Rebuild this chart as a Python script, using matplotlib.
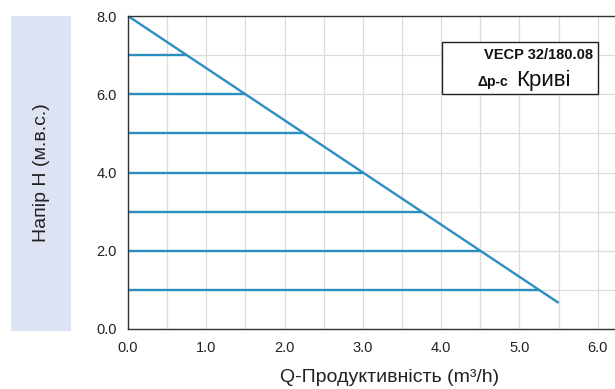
import matplotlib
matplotlib.use("Agg")
import matplotlib.pyplot as plt
from matplotlib.patches import Rectangle
import numpy as np

# Data
curve_q = [0.0, 5.5]
curve_h = [8.0, 0.667]
levels_h = [7, 6, 5, 4, 3, 2, 1]
levels_qend = [0.75, 1.5, 2.25, 3.0, 3.75, 4.5, 5.25]
xticks = [0, 1, 2, 3, 4, 5, 6]
yticks = [0, 2, 4, 6, 8]

plt.rcParams['font.family'] = ['Liberation Sans', 'DejaVu Sans']

fig = plt.figure(figsize=(6.15, 3.89), dpi=100)
ax = fig.add_axes([128/615, 1-329/389, 1-128/615, (329-16)/389])

blue = '#2a8fc0'
ax.plot(curve_q, curve_h, color=blue, lw=1.7, solid_capstyle='butt')
for h, q in zip(levels_h, levels_qend):
    ax.plot([0, q], [h, h], color=blue, lw=1.7, solid_capstyle='butt')

ax.set_xlim(0, 487/78.3)
ax.set_ylim(0, 8)
ax.set_xticks(np.arange(0, 6.5, 0.5), minor=False)
ax.set_xticklabels([f"{v:.1f}" if v in xticks else "" for v in np.arange(0, 6.5, 0.5)])
ax.set_yticks(np.arange(0, 9, 1))
ax.set_yticklabels([f"{v:.1f}" if v in yticks else "" for v in range(9)])
ax.grid(True, color='#dcdcdc', lw=0.9)
ax.set_axisbelow(True)
ax.tick_params(length=0, labelsize=10.5, colors='#222222')
ax.tick_params(axis='x', pad=9)
ax.tick_params(axis='y', pad=8)
for s in ['left', 'bottom', 'top']:
    ax.spines[s].set_color('#333333')
    ax.spines[s].set_linewidth(1.0)
ax.spines['right'].set_visible(False)

fig.text(390/615, 1-378/389, 'Q-Продуктивність (m³/h)', fontsize=14, color='#222222',
         ha='center', va='center')

# y label box
fig.patches.append(Rectangle((11/615, 1-331/389), 60/615, 315/389,
                             transform=fig.transFigure, facecolor='#dde3f3', edgecolor='none'))
fig.text(41/615, 1-173/389, 'Напір H (м.в.с.)', rotation=90, fontsize=14,
         ha='center', va='center', color='#222222')

# legend box
fig.patches.append(Rectangle((442/615, 1-94/389), 156/615, 52/389,
                             transform=fig.transFigure, facecolor='white', edgecolor='#222222', lw=1.0, zorder=5))
fig.text(593/615, 1-55/389, 'VECP 32/180.08', fontsize=10.5, fontweight='bold', ha='right', va='center',
         color='#111111', zorder=6)
fig.text(477/615, 1-82/389, 'Δp-c', fontsize=10, fontweight='bold', ha='left', va='center',
         color='#111111', zorder=6)
fig.text(516/615, 1-80/389, 'Криві', fontsize=16, ha='left', va='center', color='#111111', zorder=6)

fig.savefig('out.png', dpi=100)
